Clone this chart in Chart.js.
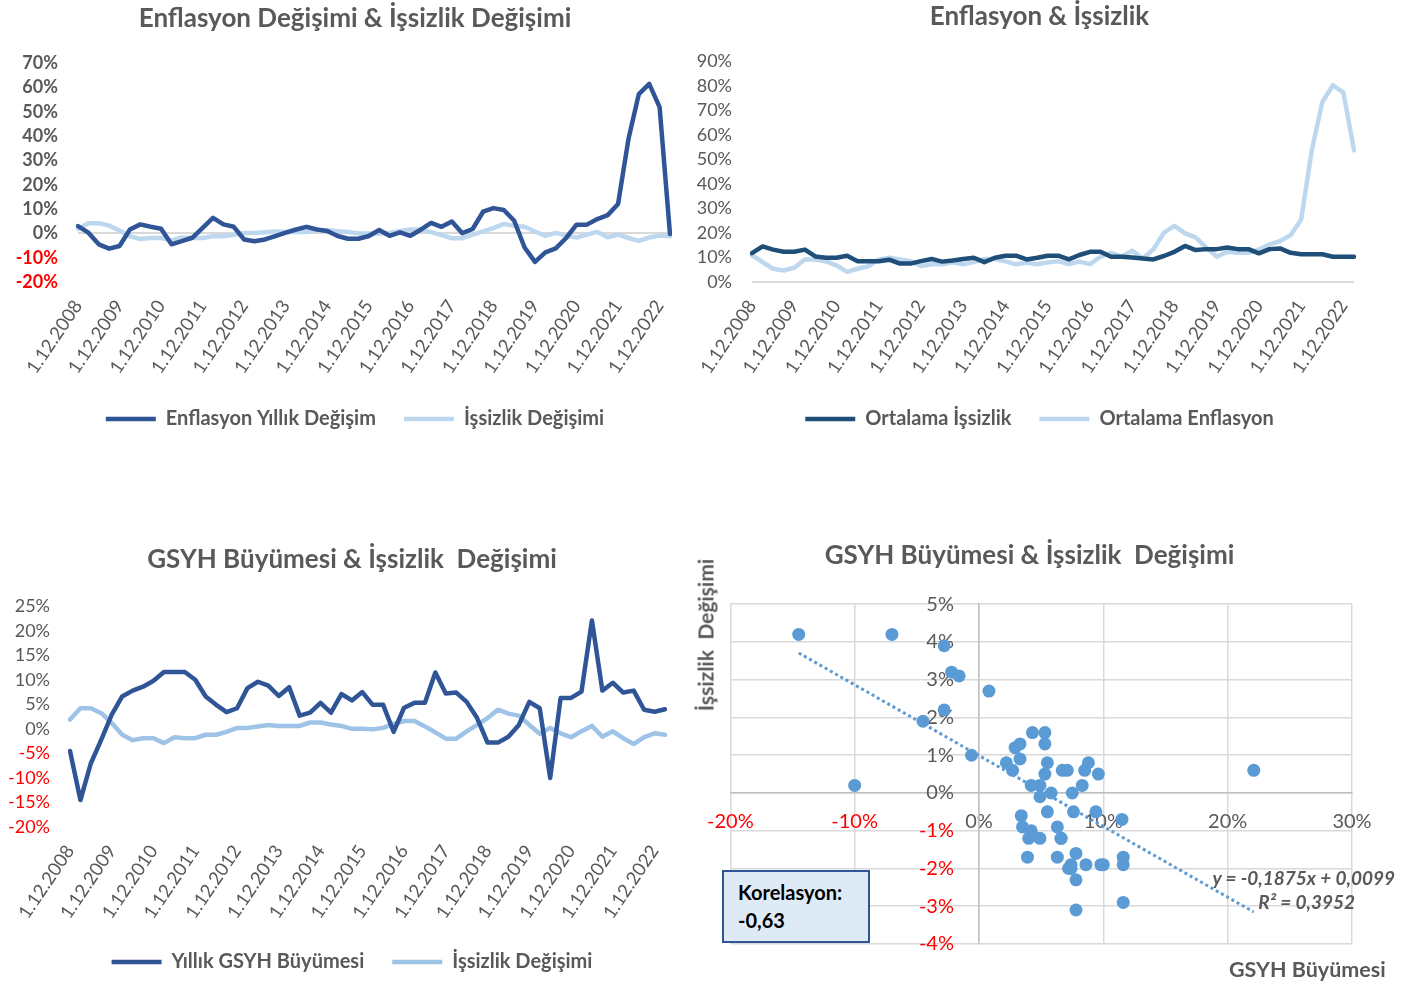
<!DOCTYPE html>
<html lang="tr">
<head>
<meta charset="utf-8">
<title>Enflasyon, GSYH ve İşsizlik</title>
<script src="https://cdn.jsdelivr.net/npm/chart.js@4.4.0/dist/chart.umd.min.js"></script>
<style>
  html, body { margin: 0; padding: 0; background: #fff; }
  body { width: 1421px; height: 982px; position: relative; overflow: hidden; font-family: Lato, "Open Sans", sans-serif; }
  .panel { position: absolute; }
  .txt { position: absolute; white-space: pre; font-weight: bold; color: #595959; }
  .corr { position: absolute; left: 722px; top: 870px; width: 130px; height: 63px; padding: 6px 0 0 14px; background: #DEEBF7; border: 2px solid #2F5597; color: #000; font-weight: bold; font-size: 20px; line-height: 28px; }
</style>
</head>
<body>
<div class="panel" style="left:0;top:0;width:700px;height:450px"><canvas id="c1"></canvas></div>
<div class="panel" style="left:680px;top:0;width:741px;height:450px"><canvas id="c2"></canvas></div>
<div class="panel" style="left:0;top:450px;width:700px;height:532px"><canvas id="c3"></canvas></div>
<div class="panel" style="left:690px;top:450px;width:731px;height:532px"><canvas id="c4"></canvas></div>

<div class="txt" style="left:705px;top:635px;font-size:21px;transform:translate(-50%,-50%) rotate(-90deg)">İşsizlik  Değişimi</div>
<div class="txt" style="left:1229px;top:956px;font-size:21.5px">GSYH Büyümesi</div>
<div class="txt" style="right:26px;top:866px;font-size:19px;font-style:italic">y = -0,1875x + 0,0099</div>
<div class="txt" style="right:66px;top:890px;font-size:19px;font-style:italic">R² = 0,3952</div>
<div class="corr">Korelasyon:<br>-0,63</div>

<script>
// quarterly observations, 2008 Q4 .. 2023 Q1
const quarters = [
  '1.12.2008',
  '1.03.2009', '1.06.2009', '1.09.2009', '1.12.2009',
  '1.03.2010', '1.06.2010', '1.09.2010', '1.12.2010',
  '1.03.2011', '1.06.2011', '1.09.2011', '1.12.2011',
  '1.03.2012', '1.06.2012', '1.09.2012', '1.12.2012',
  '1.03.2013', '1.06.2013', '1.09.2013', '1.12.2013',
  '1.03.2014', '1.06.2014', '1.09.2014', '1.12.2014',
  '1.03.2015', '1.06.2015', '1.09.2015', '1.12.2015',
  '1.03.2016', '1.06.2016', '1.09.2016', '1.12.2016',
  '1.03.2017', '1.06.2017', '1.09.2017', '1.12.2017',
  '1.03.2018', '1.06.2018', '1.09.2018', '1.12.2018',
  '1.03.2019', '1.06.2019', '1.09.2019', '1.12.2019',
  '1.03.2020', '1.06.2020', '1.09.2020', '1.12.2020',
  '1.03.2021', '1.06.2021', '1.09.2021', '1.12.2021',
  '1.03.2022', '1.06.2022', '1.09.2022', '1.12.2022',
  '1.03.2023'
];

// % values
const inflationChange = [
  3.0, 0.3, -4.5, -6.3, -5.2, 1.6, 3.7, 2.7, 1.9, -4.5,
  -3.2, -1.8, 2.3, 6.4, 3.7, 2.7, -2.5, -3.2, -2.5, -1.1,
  0.3, 1.6, 2.7, 1.6, 1.0, -1.1, -2.2, -2.2, -1.1, 1.4,
  -1.0, 0.4, -1.0, 1.5, 4.3, 2.7, 4.9, 0.1, 1.8, 8.9,
  10.4, 9.6, 5.2, -5.8, -11.7, -7.8, -6.2, -1.9, 3.6, 3.6,
  5.9, 7.5, 12.1, 38.8, 57.3, 61.5, 51.9, -0.3
];
const unemploymentChange = [
  1.9, 4.2, 4.2, 3.2, 1.2, -1.2, -2.3, -1.9, -1.9, -2.9,
  -1.7, -1.9, -1.9, -1.2, -1.2, -0.6, 0.2, 0.2, 0.5, 0.8,
  0.6, 0.6, 0.6, 1.3, 1.3, 0.9, 0.6, 0.0, 0.0, -0.1,
  0.2, 1.0, 1.6, 1.6, 0.5, -0.7, -2.0, -2.0, -0.5, 0.8,
  2.2, 3.9, 3.1, 2.7, 0.8, -1.0, 0.2, -0.9, -1.7, -0.5,
  0.6, -1.6, -0.5, -1.9, -3.1, -1.7, -0.9, -1.2
];
const avgUnemployment = [
  11.8, 14.5, 13.2, 12.3, 12.3, 13.2, 10.4, 9.9, 9.9, 10.7,
  8.5, 8.5, 8.5, 9.1, 7.5, 7.5, 8.5, 9.4, 8.3, 8.8,
  9.4, 9.9, 8.1, 9.9, 10.7, 10.7, 9.2, 9.9, 10.7, 10.7,
  9.2, 11.0, 12.3, 12.3, 10.3, 10.3, 10.0, 9.6, 9.2, 10.6,
  12.3, 14.7, 13.0, 13.4, 13.4, 14.1, 13.4, 13.4, 11.7, 13.4,
  13.7, 11.9, 11.3, 11.3, 11.3, 10.3, 10.3, 10.3
];
const avgInflation = [
  10.9, 8.1, 5.4, 4.7, 5.8, 9.2, 9.2, 8.4, 6.8, 4.1,
  5.4, 6.4, 9.2, 9.9, 9.2, 8.5, 6.5, 7.2, 7.2, 8.0,
  7.2, 8.1, 9.4, 9.4, 8.4, 7.2, 7.9, 7.2, 8.0, 8.5,
  7.3, 8.3, 7.3, 10.3, 11.9, 10.3, 12.8, 9.6, 13.3, 20.1,
  22.9, 19.8, 18.2, 14.1, 10.3, 12.3, 11.9, 11.9, 13.3, 15.3,
  16.7, 19.1, 25.5, 53.7, 73.4, 80.2, 77.2, 53.7
];
const gdpGrowth = [
  -4.5, -14.5, -7.0, -2.2, 2.9, 6.6, 7.8, 8.6, 9.8, 11.6,
  11.6, 11.6, 10.0, 6.6, 4.9, 3.4, 4.2, 8.3, 9.6, 8.8,
  6.7, 8.5, 2.7, 3.3, 5.3, 3.3, 7.1, 5.8, 7.5, 4.9,
  4.9, -0.6, 4.3, 5.3, 5.3, 11.5, 7.2, 7.4, 5.5, 2.2,
  -2.8, -2.8, -1.6, 0.8, 5.5, 4.2, -10.0, 6.3, 6.3, 7.6,
  22.1, 7.8, 9.4, 7.4, 7.8, 3.9, 3.5, 4.0
];

// trendline from the chart label (decimal units)
const trendSlope = -0.1875;
const trendIntercept = 0.0099;

const GREY = '#595959';
Chart.defaults.font.family = 'Lato, "Open Sans", sans-serif';
Chart.defaults.color = GREY;
Chart.defaults.animation = false;
Chart.defaults.plugins.tooltip.enabled = false;

const tickColor = ctx => (ctx.tick && ctx.tick.value < 0 ? '#FF0000' : GREY);
const pct = v => v + '%';

// empty axis used only to reserve room beside the plot
const spacer = (position, width) => ({
  type: 'linear', position, display: true,
  grid: { display: false }, border: { display: false }, ticks: { display: false },
  afterFit: s => { s.width = width; }
});

function makeLineChart(id, cfg) {
  return new Chart(document.getElementById(id), {
    type: 'line',
    data: {
      labels: quarters,
      datasets: cfg.series.map(s => ({
        label: s.label,
        data: s.data,
        borderColor: s.color,
        backgroundColor: s.color,
        borderWidth: 4.5,
        pointRadius: 0,
        pointHoverRadius: 0,
        tension: 0,
        borderJoinStyle: 'round',
        borderCapStyle: 'round'
      }))
    },
    options: {
      responsive: true,
      maintainAspectRatio: false,
      layout: { padding: cfg.padding },
      plugins: {
        title: {
          display: true, text: cfg.title, color: GREY,
          font: { size: 26, weight: 'bold' }, padding: cfg.titlePad
        },
        legend: {
          position: 'bottom',
          labels: {
            usePointStyle: true, pointStyle: 'line', pointStyleWidth: 50,
            padding: cfg.legendGap, color: GREY, font: { size: 20, weight: 'bold' }
          }
        }
      },
      scales: {
        x: {
          grid: { display: false },
          border: { display: false },
          ticks: {
            autoSkip: false, minRotation: 56, maxRotation: 56, padding: 6,
            color: GREY, font: { size: 18.5 },
            callback(v, i) { return i % 4 === 0 ? this.getLabelForValue(v) : ''; }
          },
          afterFit: s => { s.height = cfg.xHeight; }
        },
        y: {
          min: cfg.yMin, max: cfg.yMax,
          grid: {
            display: cfg.zeroLine, drawTicks: false, lineWidth: 2,
            color: c => (c.tick && c.tick.value === 0 ? '#D9D9D9' : 'rgba(0,0,0,0)')
          },
          border: { display: false },
          ticks: {
            stepSize: cfg.yStep, autoSkip: false, maxTicksLimit: 20, padding: 20, color: tickColor,
            font: { size: 18, weight: cfg.yBold ? 'bold' : 'normal' }, callback: pct
          },
          afterFit: s => { s.width = cfg.yWidth; }
        },
        pad: spacer('right', cfg.rightSpace)
      }
    }
  });
}

makeLineChart('c1', {
  title: 'Enflasyon Değişimi & İşsizlik Değişimi',
  series: [
    { label: 'Enflasyon Yıllık Değişim', data: inflationChange, color: '#2F5597' },
    { label: 'İşsizlik Değişimi', data: unemploymentChange, color: '#BDD7EE' }
  ],
  yMin: -20, yMax: 70, yStep: 10, yBold: true, zeroLine: true,
  padding: { left: 10, right: 0, top: 0, bottom: 11 },
  titlePad: { top: 3, bottom: 29 },
  yWidth: 68, rightSpace: 30, xHeight: 99, legendGap: 28
});

makeLineChart('c2', {
  title: 'Enflasyon & İşsizlik',
  series: [
    { label: 'Ortalama İşsizlik', data: avgUnemployment, color: '#1F4E79' },
    { label: 'Ortalama Enflasyon', data: avgInflation, color: '#BDD7EE' }
  ],
  yMin: 0, yMax: 90, yStep: 10, yBold: false, zeroLine: true,
  padding: { left: 14, right: 36, top: 0, bottom: 11 },
  titlePad: { top: 1, bottom: 29 },
  yWidth: 58, rightSpace: 31, xHeight: 99, legendGap: 28
});

makeLineChart('c3', {
  title: 'GSYH Büyümesi & İşsizlik  Değişimi',
  series: [
    { label: 'Yıllık GSYH Büyümesi', data: gdpGrowth, color: '#2F5597' },
    { label: 'İşsizlik Değişimi', data: unemploymentChange, color: '#9DC3E6' }
  ],
  yMin: -20, yMax: 25, yStep: 5, yBold: false, zeroLine: false,
  padding: { left: 4, right: 0, top: 0, bottom: 0 },
  titlePad: { top: 94, bottom: 31 },
  yWidth: 66, rightSpace: 35, xHeight: 97, legendGap: 28
});

// scatter: GDP growth vs unemployment change, plus linear trendline
const scatterPoints = gdpGrowth.map((g, i) => ({ x: g, y: unemploymentChange[i] }));
const xLow = Math.min(...gdpGrowth);
const xHigh = Math.max(...gdpGrowth);
const trendAt = x => (trendSlope * x / 100 + trendIntercept) * 100;

new Chart(document.getElementById('c4'), {
  type: 'scatter',
  data: {
    datasets: [
      {
        data: [{ x: xLow, y: trendAt(xLow) }, { x: xHigh, y: trendAt(xHigh) }],
        type: 'line', borderColor: '#5B9BD5', borderWidth: 3, borderDash: [3, 3],
        pointRadius: 0, pointHoverRadius: 0, order: 0
      },
      {
        data: scatterPoints, backgroundColor: '#5B9BD5', borderWidth: 0,
        pointRadius: 6.5, pointHoverRadius: 6.5, order: 1
      }
    ]
  },
  options: {
    responsive: true,
    maintainAspectRatio: false,
    layout: { padding: { left: 17, right: 69, top: 0, bottom: 38 } },
    plugins: {
      legend: { display: false },
      title: {
        display: true, text: 'GSYH Büyümesi & İşsizlik  Değişimi', color: GREY,
        font: { size: 26, weight: 'bold' }, padding: { top: 90, bottom: 33 }
      }
    },
    scales: {
      x: {
        type: 'linear', position: { y: 0 }, min: -20, max: 30,
        grid: { color: '#D9D9D9', lineWidth: 1.5, drawTicks: false },
        border: { color: '#BFBFBF', width: 1.5 },
        ticks: { stepSize: 10, padding: 17, color: tickColor, font: { size: 20 }, callback: pct }
      },
      y: {
        type: 'linear', position: { x: 0 }, min: -4, max: 5,
        grid: { color: '#D9D9D9', lineWidth: 1.5, drawTicks: false },
        border: { color: '#BFBFBF', width: 1.5 },
        // labels sit right-aligned on the axis line; the wide spaces keep them clear of it
        ticks: { stepSize: 1, autoSkip: false, color: tickColor, font: { size: 20 }, callback: v => v + '%\u2003\u2002' }
      },
      pad: spacer('left', 17)
    }
  }
});
</script>
</body>
</html>
